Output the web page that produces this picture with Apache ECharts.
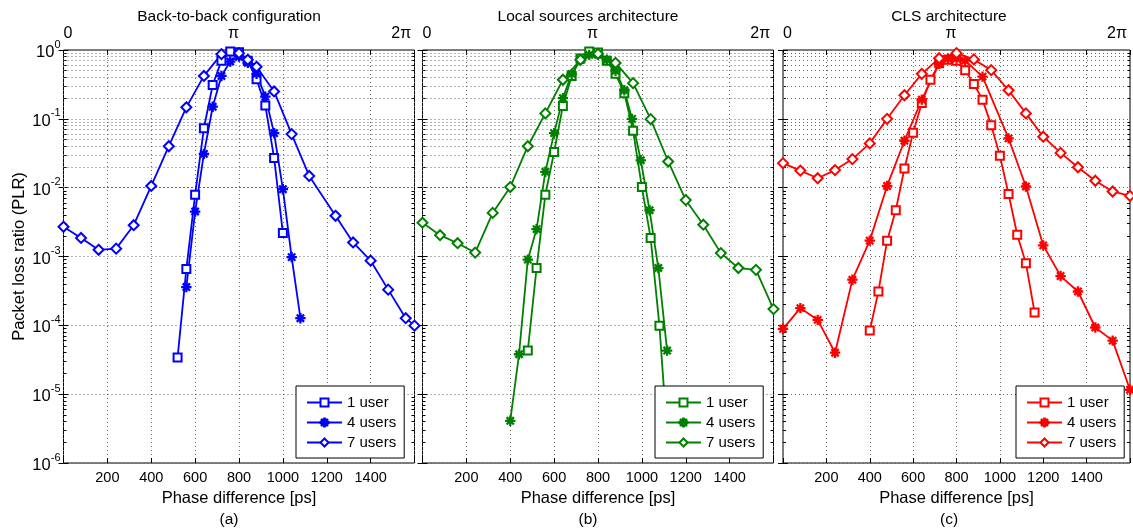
<!DOCTYPE html>
<html>
<head>
<meta charset="utf-8">
<script src="https://cdn.jsdelivr.net/npm/echarts@6/dist/echarts.min.js"></script>
<style>
  html, body { margin: 0; padding: 0; background: #fff; }
  #main { width: 1133px; height: 531px; }
</style>
</head>
<body>
<div id="main"></div>
<script>
// phase difference [ps] and packet loss ratio
// (a) back-to-back configuration
const psA1 = [520, 560, 600, 640, 680, 720, 760, 800, 840, 880, 920, 960, 1000]
const plrA1 = [3.4e-5, 6.6e-4, 7.9e-3, 0.073, 0.31, 0.7, 0.95, 0.93, 0.7, 0.375, 0.156, 0.027, 2.2e-3]
const psA4 = [560, 600, 640, 680, 720, 760, 800, 840, 880, 920, 960, 1000, 1040, 1080]
const plrA4 = [3.6e-4, 4.5e-3, 0.031, 0.15, 0.42, 0.68, 0.8, 0.65, 0.45, 0.21, 0.062, 9.5e-3, 9.8e-4, 1.27e-4]
const psA7 = [0, 80, 160, 240, 320, 400, 480, 560, 640, 720, 800, 840, 880, 960, 1040, 1120, 1240, 1320, 1400, 1480, 1560, 1600]
const plrA7 = [2.7e-3, 1.86e-3, 1.25e-3, 1.3e-3, 2.85e-3, 1.06e-2, 0.04, 0.147, 0.42, 0.87, 0.9, 0.72, 0.57, 0.25, 0.06, 0.0148, 3.9e-3, 1.6e-3, 8.7e-4, 3.3e-4, 1.27e-4, 9.9e-5]
// (b) local sources architecture
const psB1 = [480, 520, 560, 600, 640, 680, 720, 760, 800, 840, 880, 920, 960, 1000, 1040, 1080, 1120]
const plrB1 = [4.3e-5, 6.8e-4, 7.9e-3, 0.033, 0.154, 0.42, 0.75, 0.95, 0.92, 0.7, 0.45, 0.235, 0.067, 0.0102, 1.85e-3, 9.9e-5, 1.6e-6]
const psB4 = [400, 440, 480, 520, 560, 600, 640, 680, 720, 760, 800, 840, 880, 920, 955, 995, 1035, 1075, 1115]
const plrB4 = [4.1e-6, 3.8e-5, 9e-4, 2.5e-3, 0.017, 0.062, 0.2, 0.45, 0.72, 0.85, 0.85, 0.72, 0.5, 0.26, 0.1, 0.025, 4.7e-3, 6.8e-4, 4.3e-5]
const psB7 = [0, 80, 160, 240, 320, 400, 480, 560, 640, 720, 800, 880, 960, 1040, 1120, 1200, 1280, 1360, 1440, 1520, 1600]
const plrB7 = [3.1e-3, 2.04e-3, 1.56e-3, 1.14e-3, 4.3e-3, 1.02e-2, 0.04, 0.12, 0.37, 0.72, 0.88, 0.65, 0.33, 0.099, 0.024, 6.6e-3, 2.9e-3, 1.12e-3, 6.8e-4, 6.4e-4, 1.72e-4]
// (c) CLS architecture
const psC1 = [400, 440, 480, 520, 560, 600, 640, 680, 720, 760, 800, 840, 880, 920, 960, 1000, 1040, 1080, 1120, 1160]
const plrC1 = [8.4e-5, 3.1e-4, 1.7e-3, 4.7e-3, 0.019, 0.063, 0.17, 0.37, 0.64, 0.72, 0.7, 0.51, 0.32, 0.19, 0.081, 0.029, 8.1e-3, 2.07e-3, 8e-4, 1.54e-4]
const psC4 = [0, 80, 160, 240, 320, 400, 480, 560, 640, 720, 760, 800, 840, 920, 1040, 1120, 1200, 1280, 1360, 1440, 1520, 1600]
const plrC4 = [8.9e-5, 1.78e-4, 1.2e-4, 4.0e-5, 4.6e-4, 1.7e-3, 0.0106, 0.048, 0.19, 0.63, 0.75, 0.75, 0.7, 0.41, 0.052, 0.0104, 1.45e-3, 5.2e-4, 3.1e-4, 9.3e-5, 6.0e-5, 1.16e-5]
const psC7 = [0, 80, 160, 240, 320, 400, 480, 560, 640, 720, 800, 880, 960, 1040, 1120, 1200, 1280, 1360, 1440, 1520, 1600]
const plrC7 = [0.0227, 0.0177, 0.0137, 0.018, 0.026, 0.044, 0.10, 0.22, 0.45, 0.76, 0.9, 0.73, 0.51, 0.26, 0.12, 0.055, 0.032, 0.0198, 0.0126, 8.8e-3, 7.6e-3]

// tick labels
const topTickValues = [20, 775, 1540]
const topTickLabels = ['0', 'π', '2π']
const decadeExps = [-6, -5, -4, -3, -2, -1]
const minorMults = [2, 3, 4, 5, 6, 7, 8, 9]
const userCounts = ['1', '4', '7']
const userLabels = ['1 user', '4 users', '7 users']

const titles = ['Back-to-back configuration', 'Local sources architecture', 'CLS architecture']
const captions = ['(a)', '(b)', '(c)']
const colors = ['#0000ff', '#008000', '#ff0000']
const keys = ['a', 'b', 'c']

// layout
const gridLeft = [63.5, 422.5, 783]
const gridWidth = [351, 351, 349.5]
const gridTop = 50
const gridHeight = 413
const titleX = [224, 583, 944]
const legendLeft = [296, 655, 1016]

const FONT = '"Liberation Sans", Arial, sans-serif'
const minorVals = []
decadeExps.forEach(e => minorMults.forEach(m => minorVals.push(m * Math.pow(10, e))))

// MATLAB-like asterisk marker
const asterisk = 'path://M45 0L55 0L55 100L45 100Z M0 45L100 45L100 55L0 55Z M18.5 11.5L88.5 81.5L81.5 88.5L11.5 18.5Z M81.5 11.5L88.5 18.5L18.5 88.5L11.5 81.5Z'
const symbols = ['emptyRect', asterisk, 'emptyDiamond']
const symbolSizes = [8, 9, 10]

const panelData = [
  [[psA1, plrA1], [psA4, plrA4], [psA7, plrA7]],
  [[psB1, plrB1], [psB4, plrB4], [psB7, plrB7]],
  [[psC1, plrC1], [psC4, plrC4], [psC7, plrC7]]
]

const dotted = { color: '#666', width: 1, type: [1, 3] }

const grid = []
const xAxis = []
const yAxis = []
const series = []
const legend = []
const title = []

for (let i = 0; i < 3; i++) {
  grid.push({
    left: gridLeft[i], top: gridTop, width: gridWidth[i], height: gridHeight,
    show: true, borderColor: '#000', borderWidth: 1, backgroundColor: '#fff'
  })
  // bottom x axis
  xAxis.push({
    gridIndex: i, type: 'value', min: 0, max: 1600, interval: 200,
    axisLine: { show: false },
    axisTick: { inside: true, length: 5, lineStyle: { color: '#000' } },
    axisLabel: {
      fontSize: 14.5, color: '#000', margin: 7, fontFamily: FONT,
      formatter: v => (v === 0 || v === 1600) ? '' : String(v)
    },
    splitLine: { show: true, lineStyle: dotted },
    name: 'Phase difference [ps]', nameLocation: 'middle', nameGap: 22,
    nameTextStyle: { fontSize: 16.5, color: '#000', fontFamily: FONT }
  })
  // top x axis with phase labels
  xAxis.push({
    gridIndex: i, type: 'value', position: 'top', min: 0, max: 1600, interval: 200,
    axisLine: { show: false },
    axisTick: { inside: true, length: 5, lineStyle: { color: '#000' } },
    axisLabel: {
      customValues: topTickValues, fontSize: 16, color: '#000', margin: 8, fontFamily: FONT,
      formatter: v => topTickLabels[topTickValues.indexOf(v)] || ''
    },
    splitLine: { show: false }
  })
  // left log axis (major)
  yAxis.push({
    gridIndex: i, type: 'log', logBase: 10, min: 1e-6, max: 1, splitNumber: 6,
    axisLine: { show: false },
    axisTick: { inside: true, length: 5, lineStyle: { color: '#000' } },
    axisLabel: {
      show: i === 0, margin: 3, color: '#000', fontFamily: FONT,
      formatter: v => '{b|10}{s|' + Math.round(Math.log10(v)) + '}',
      rich: {
        b: { fontSize: 16.5, lineHeight: 22, verticalAlign: 'bottom', color: '#000', fontFamily: FONT },
        s: { fontSize: 11, lineHeight: 11, verticalAlign: 'top', color: '#000', fontFamily: FONT }
      }
    },
    splitLine: { show: true, lineStyle: dotted },
    name: i === 0 ? 'Packet loss ratio (PLR)' : '',
    nameLocation: 'middle', nameGap: 36,
    nameTextStyle: { fontSize: 16.5, color: '#000', fontFamily: FONT }
  })
  // right log axis (major ticks only)
  yAxis.push({
    gridIndex: i, type: 'log', logBase: 10, min: 1e-6, max: 1, splitNumber: 6, position: 'right',
    axisLine: { show: false },
    axisTick: { inside: true, length: 5, lineStyle: { color: '#000' } },
    axisLabel: { show: false }, splitLine: { show: false }
  })
  // minor ticks, left and right
  for (const pos of ['left', 'right']) {
    yAxis.push({
      gridIndex: i, type: 'log', logBase: 10, min: 1e-6, max: 1, position: pos,
      axisLine: { show: false },
      axisTick: { inside: true, length: 3, customValues: minorVals, lineStyle: { color: '#000' } },
      axisLabel: { show: false }, splitLine: { show: false }
    })
  }

  panelData[i].forEach((d, k) => {
    const s = {
      type: 'line', name: keys[i] + userCounts[k],
      xAxisIndex: 2 * i, yAxisIndex: 4 * i,
      data: d[0].map((x, j) => [x, d[1][j]]),
      symbol: symbols[k], symbolSize: symbolSizes[k], showAllSymbol: true,
      lineStyle: { color: colors[i], width: 1.8 },
      itemStyle: { color: colors[i], borderColor: colors[i], borderWidth: 1.4 },
      animation: false, z: 3
    }
    if (k === 0) {
      // minor horizontal grid lines of the log axis
      s.markLine = {
        silent: true, symbol: ['none', 'none'], animation: false,
        label: { show: false }, lineStyle: dotted, z: 1,
        data: minorVals.map(v => ({ yAxis: v }))
      }
    }
    series.push(s)
  })

  legend.push({
    data: userCounts.map(n => keys[i] + n),
    orient: 'vertical', left: legendLeft[i], top: 386,
    itemWidth: 35, itemHeight: 10, itemGap: 5,
    padding: [9, 8, 8, 10],
    backgroundColor: '#fff', borderColor: '#000', borderWidth: 1, borderRadius: 0,
    textStyle: { fontSize: 15, color: '#000', fontFamily: FONT },
    formatter: name => userLabels[userCounts.indexOf(name.slice(1))],
    selectedMode: false
  })

  title.push({
    text: titles[i], left: titleX[i], top: 4, textAlign: 'center',
    textStyle: { fontSize: 15.5, fontWeight: 'normal', color: '#000', fontFamily: FONT }
  })
  title.push({
    text: captions[i], left: titleX[i], top: 507, textAlign: 'center',
    textStyle: { fontSize: 15.5, fontWeight: 'normal', color: '#000', fontFamily: FONT }
  })
}

const myChart = echarts.init(document.getElementById('main'))
myChart.setOption({
  animation: false,
  backgroundColor: '#fff',
  textStyle: { fontFamily: FONT },
  title: title,
  legend: legend,
  grid: grid,
  xAxis: xAxis,
  yAxis: yAxis,
  series: series
})
</script>
</body>
</html>
